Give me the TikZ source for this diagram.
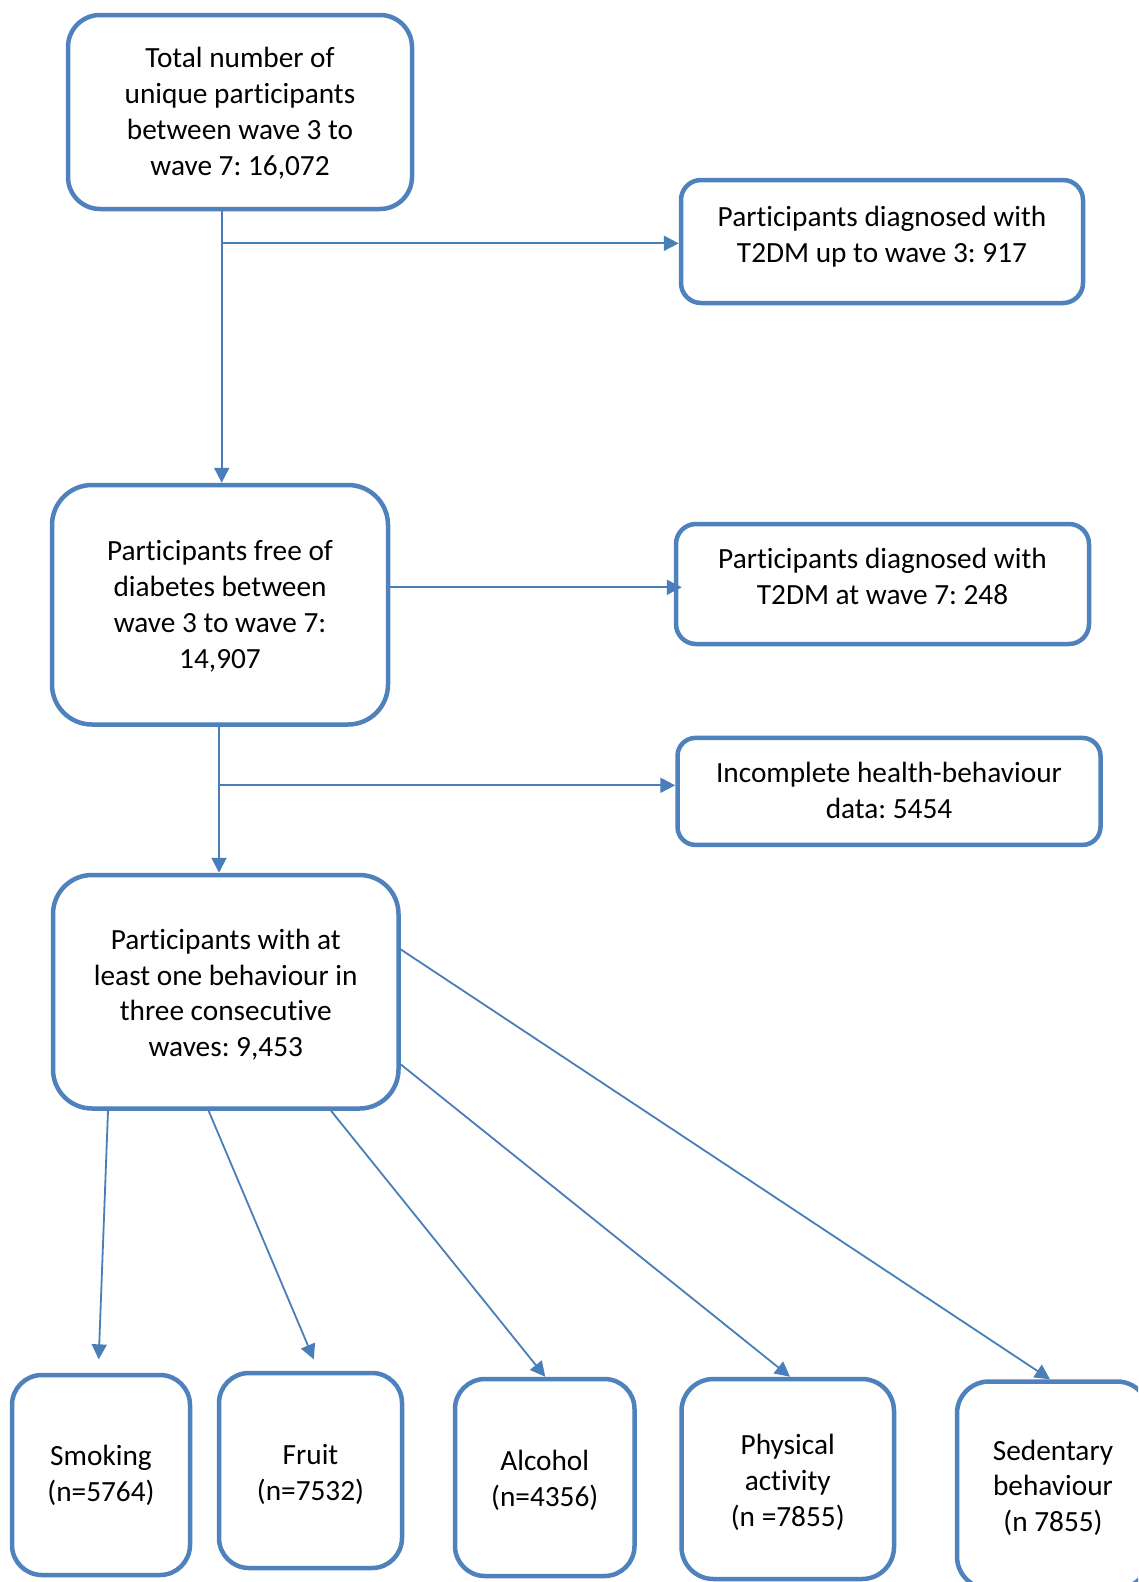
\documentclass[tikz,border=0pt]{standalone}
\usepackage{fontspec}
\setmainfont{Carlito}[Ligatures=NoCommon]
\usetikzlibrary{arrows.meta}
\definecolor{bx}{HTML}{4F81BD}
\definecolor{ln}{HTML}{4A7EBB}
\frenchspacing
\tikzset{
  box/.style={draw=bx, line width=4.5pt, rounded corners=#1, align=center,
    inner sep=0pt, fill=white, text=black, text depth=10pt,
    font=\fontsize{29.3pt}{35.8pt}\selectfont},
  conn/.style={draw=ln, line width=2pt},
  arr/.style={draw=ln, line width=2pt, -{Triangle[length=15pt,width=15pt]}},
  darr/.style={draw=ln, line width=1.8pt, -{Triangle[length=15pt,width=15pt]}}
}
\begin{document}
\begin{tikzpicture}[x=1pt,y=-1pt]
\useasboundingbox (0,0) rectangle (1138,1582);
\clip (0,0) rectangle (1138,1582);
\fill[white] (0,0) rectangle (1138,1582);

\node[box=32pt, text height=136pt, minimum width=344pt, minimum height=194pt] (b1) at (240,112)
  {Total number of\\unique participants\\between wave 3 to\\wave 7: 16,072};
\node[box=20pt, text height=51.6pt, minimum width=402pt, minimum height=123pt] (b2) at (882,241.5)
  {Participants diagnosed with\\T2DM up to wave 3: 917};
\node[box=40pt, text height=137.1pt, minimum width=336pt, minimum height=239.5pt] (b3) at (220,604.75)
  {Participants free of\\diabetes between\\wave 3 to wave 7:\\14,907};
\node[box=20pt, text height=50pt, minimum width=413pt, minimum height=120pt] (b4) at (882.5,584)
  {Participants diagnosed with\\T2DM at wave 7: 248};
\node[box=18pt, text height=63.8pt, minimum width=423pt, minimum height=107pt] (b5) at (889,791.4)
  {Incomplete health-behaviour\\data: 5454};
\node[box=39pt, text height=139.9pt, minimum width=345.5pt, minimum height=233.5pt] (b6) at (225.75,991.75)
  {Participants with at\\least one behaviour in\\three consecutive\\waves: 9,453};
\node[box=30pt, text height=63.4pt, minimum width=178pt, minimum height=200pt] (smoke) at (101,1475)
  {Smoking\\(n=5764)};
\node[box=30pt, text height=69pt, minimum width=183pt, minimum height=195pt] (fruit) at (310.5,1470.5)
  {Fruit\\(n=7532)};
\node[box=30pt, text height=68.4pt, minimum width=179.5pt, minimum height=197pt] (alc) at (544.75,1477.5)
  {Alcohol\\(n=4356)};
\node[box=32pt, text height=104pt, minimum width=212.5pt, minimum height=200pt] (phys) at (787.75,1479)
  {Physical\\activity\\(n =7855)};
\node[box=32pt, text height=103.4pt, minimum width=192pt, minimum height=207pt] (sed) at (1053,1485)
  {Sedentary\\behaviour\\(n 7855)};

% first junction
\coordinate (j1) at (221.7,243.3);
\draw[conn] (b1.south -| j1) -- (j1);
\draw[arr] (j1) -- (b3.north -| j1);
\draw[arr] (j1) -- (b2.west |- j1);

% box 3 to box 4
\coordinate (t3) at ([yshift=17.45pt]b3.east);
\draw[arr, shorten >=-8pt] (t3) -- (b4.west |- t3);

% second junction
\coordinate (j2) at (219,785.3);
\draw[conn] (b3.south -| j2) -- (j2);
\draw[arr] (j2) -- (b6.north -| j2);
\draw[arr] (j2) -- (b5.west |- j2);

% fan-out to behaviours
\draw[darr] ([xshift=-117.75pt]b6.south) -- ([xshift=-2.3pt,yshift=13.4pt]smoke.north);
\draw[darr] ([xshift=-17.15pt]b6.south) -- ([xshift=3.3pt,yshift=11.4pt]fruit.north);
\draw[darr] ([xshift=105.25pt]b6.south) -- ([xshift=0.5pt]alc.north);
\draw[darr] ([yshift=-72.65pt]b6.east) -- ([xshift=2.25pt]phys.north);
\draw[darr] ([yshift=42.35pt]b6.east) -- ([xshift=-3pt]sed.north);
\end{tikzpicture}
\end{document}
